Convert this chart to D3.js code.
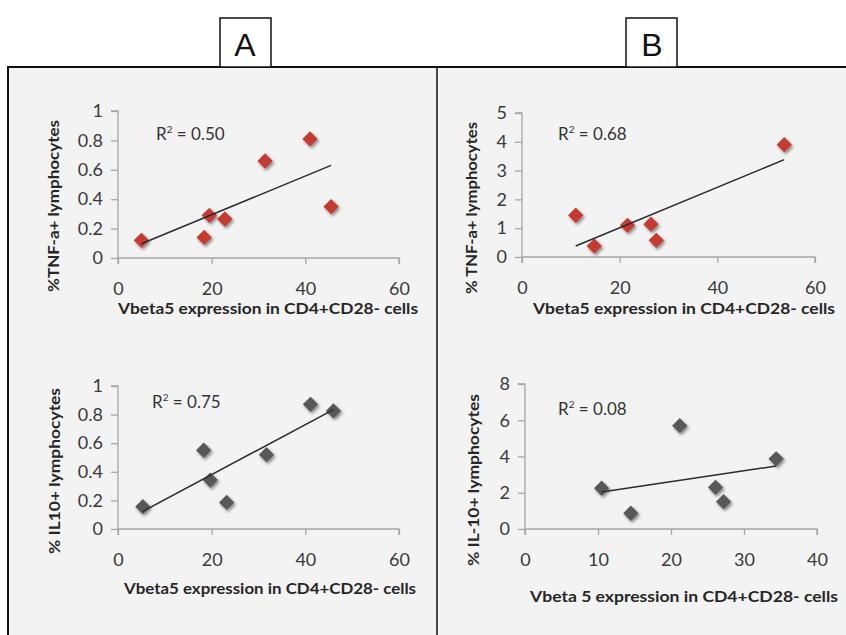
<!DOCTYPE html>
<html>
<head>
<meta charset="utf-8">
<script src="https://cdn.jsdelivr.net/npm/d3@7"></script>
<style>
  body { margin: 0; background: #fff; }
  svg { display: block; }
  text { font-family: Lato, "Open Sans", sans-serif; }
</style>
</head>
<body>
<svg id="chart" width="846" height="635"></svg>
<script>
// ---- data
const tnfA_x = [5, 18.4, 19.5, 22.8, 31.4, 41, 45.5];
const tnfA_y = [0.12, 0.14, 0.29, 0.265, 0.66, 0.81, 0.35];
const il10A_x = [5.3, 18.3, 19.7, 23.2, 31.7, 41.1, 46];
const il10A_y = [0.156, 0.551, 0.342, 0.186, 0.52, 0.872, 0.826];
const tnfB_x = [11, 14.8, 21.6, 26.4, 27.5, 53.7];
const tnfB_y = [1.45, 0.38, 1.1, 1.14, 0.58, 3.9];
const il10B_x = [10.5, 14.5, 21.2, 26.1, 27.2, 34.4];
const il10B_y = [2.25, 0.87, 5.7, 2.3, 1.51, 3.87];

const ticksA_x = [0, 20, 40, 60];
const ticksA_y = [0, 0.2, 0.4, 0.6, 0.8, 1];
const ticksB1_x = [0, 20, 40, 60];
const ticksB1_y = [0, 1, 2, 3, 4, 5];
const ticksB2_x = [0, 10, 20, 30, 40];
const ticksB2_y = [0, 2, 4, 6, 8];

const r2Labels = ["0.50", "0.75", "0.68", "0.08"];
const yTitles = ["%TNF-a+ lymphocytes", "% IL10+ lymphocytes", "% TNF-a+ lymphocytes", "% IL-10+ lymphocytes"];
const xTitles = ["Vbeta5 expression in CD4+CD28- cells", "Vbeta5 expression in CD4+CD28- cells",
                 "Vbeta5 expression in CD4+CD28- cells", "Vbeta 5 expression in CD4+CD28- cells"];
const panelLetters = ["A", "B"];

// ---- layout of each small chart (pixel boxes, title spots and lengths)
const panels = [
  { xs: tnfA_x, ys: tnfA_y, tx: ticksA_x, ty: ticksA_y, color: "#c43a33",
    left: 118, right: 399, bottom: 258, top: 111,
    r2: [156, 140], yt: [53, 206, 172], xt: [268, 314, 300] },
  { xs: il10A_x, ys: il10A_y, tx: ticksA_x, ty: ticksA_y, color: "#595959",
    left: 118, right: 399, bottom: 529, top: 386,
    r2: [152, 408], yt: [54, 471, 166], xt: [270, 594, 292] },
  { xs: tnfB_x, ys: tnfB_y, tx: ticksB1_x, ty: ticksB1_y, color: "#c43a33",
    left: 522, right: 815, bottom: 257, top: 113,
    r2: [558, 140], yt: [471, 208, 172], xt: [684, 314, 302] },
  { xs: il10B_x, ys: il10B_y, tx: ticksB2_x, ty: ticksB2_y, color: "#595959",
    left: 525, right: 817, bottom: 529, top: 384,
    r2: [558, 415], yt: [473, 480, 172], xt: [684, 602, 308] }
];

const svg = d3.select("#chart");

// soft shadow under the diamonds
const defs = svg.append("defs");
const f = defs.append("filter").attr("id", "shadow")
  .attr("x", "-50%").attr("y", "-50%").attr("width", "200%").attr("height", "200%");
f.append("feGaussianBlur").attr("in", "SourceGraphic").attr("stdDeviation", 0.6).attr("result", "soft");
f.append("feDropShadow").attr("in", "soft").attr("dx", 1.5).attr("dy", 2)
  .attr("stdDeviation", 1.8).attr("flood-color", "#000").attr("flood-opacity", 0.45);

// frame and panel background
svg.append("rect").attr("x", 8).attr("y", 67).attr("width", 850).attr("height", 580)
  .attr("fill", "#f3f3f3").attr("stroke", "#111").attr("stroke-width", 2);
svg.append("line").attr("x1", 437).attr("x2", 437).attr("y1", 67).attr("y2", 640)
  .attr("stroke", "#111").attr("stroke-width", 1.5);

// letter boxes
const letterBoxes = [[220, 245], [626, 652]];
panelLetters.forEach((l, i) => {
  svg.append("rect").attr("x", letterBoxes[i][0]).attr("y", 18).attr("width", 51).attr("height", 49)
    .attr("fill", "#fff").attr("stroke", "#111").attr("stroke-width", 1.5);
  svg.append("text").attr("x", letterBoxes[i][1]).attr("y", 56)
    .attr("text-anchor", "middle").attr("font-size", 32).attr("fill", "#111")
    .style("font-family", "'Liberation Sans Narrow', 'Liberation Sans', sans-serif")
    .text(l);
});

const axisColor = "#a6a6a6";

panels.forEach((p, i) => {
  const x = d3.scaleLinear().domain(d3.extent(p.tx)).range([p.left, p.right]);
  const y = d3.scaleLinear().domain(d3.extent(p.ty)).range([p.bottom, p.top]);
  const g = svg.append("g");

  // y axis
  const yAxis = d3.axisLeft(y).tickValues(p.ty).tickSize(7).tickPadding(8).tickFormat(d3.format("~g"));
  const ya = g.append("g").attr("transform", `translate(${p.left},0)`).call(yAxis);
  // x axis
  const xAxis = d3.axisBottom(x).tickValues(p.tx).tickSize(6).tickPadding(18).tickFormat(d3.format("~g"));
  const xa = g.append("g").attr("transform", `translate(0,${p.bottom})`).call(xAxis);
  [ya, xa].forEach(a => {
    a.attr("font-family", null).attr("font-size", null);
    a.select(".domain").attr("stroke", axisColor).attr("stroke-width", 1.3);
    a.selectAll(".tick line").attr("stroke", axisColor).attr("stroke-width", 1.3);
    a.selectAll(".tick text").attr("fill", "#3a3a3a").attr("font-size", 18);
  });
  ya.select(".domain").attr("d", `M-7,${p.top}H0V${p.bottom}`);
  xa.select(".domain").attr("d", `M${p.left},6V0H${p.right}V6`);

  // least-squares trendline over the data range
  const mx = d3.mean(p.xs), my = d3.mean(p.ys);
  const sxy = d3.sum(p.xs, (v, k) => (v - mx) * (p.ys[k] - my));
  const sxx = d3.sum(p.xs, v => (v - mx) * (v - mx));
  const slope = sxy / sxx, icpt = my - slope * mx;
  const [xmin, xmax] = d3.extent(p.xs);
  const pts = p.xs.map((v, k) => [v, p.ys[k]]);

  // markers
  g.selectAll("path.pt").data(pts).join("path")
    .attr("class", "pt")
    .attr("d", d3.symbol(d3.symbolDiamond2, 150))
    .attr("transform", d => `translate(${x(d[0])},${y(d[1])})`)
    .attr("fill", p.color)
    .attr("filter", "url(#shadow)");

  g.append("line")
    .attr("x1", x(xmin)).attr("y1", y(icpt + slope * xmin))
    .attr("x2", x(xmax)).attr("y2", y(icpt + slope * xmax))
    .attr("stroke", "#2b2b2b").attr("stroke-width", 1.5);

  // R² label
  const r = g.append("text").attr("x", p.r2[0]).attr("y", p.r2[1])
    .attr("font-size", 17).attr("fill", "#333");
  r.append("tspan").text("R");
  r.append("tspan").attr("font-size", 10).attr("dy", -7).text("2");
  r.append("tspan").attr("dy", 7).text(" = " + r2Labels[i]);

  // axis titles
  g.append("text")
    .attr("transform", `translate(${p.yt[0]},${p.yt[1]}) rotate(-90)`)
    .attr("text-anchor", "middle").attr("dy", "0.35em")
    .attr("font-size", 16).attr("font-weight", "bold").attr("fill", "#262626")
    .attr("textLength", p.yt[2]).attr("lengthAdjust", "spacingAndGlyphs")
    .text(yTitles[i]);
  g.append("text")
    .attr("x", p.xt[0]).attr("y", p.xt[1])
    .attr("text-anchor", "middle")
    .attr("font-size", 16).attr("font-weight", "bold").attr("fill", "#262626")
    .attr("textLength", p.xt[2]).attr("lengthAdjust", "spacingAndGlyphs")
    .text(xTitles[i]);
});
</script>
</body>
</html>
